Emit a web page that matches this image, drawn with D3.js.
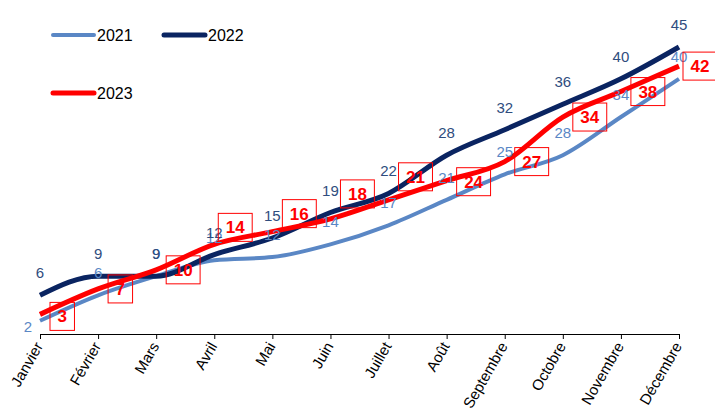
<!DOCTYPE html>
<html><head><meta charset="utf-8">
<script src="https://cdn.jsdelivr.net/npm/d3@7"></script>
<style>body{margin:0;background:#fff}svg{display:block;font-family:Arial,"Liberation Sans",sans-serif}</style>
</head><body><div id="chart"></div>
<script>
const months = ["Janvier","Février","Mars","Avril","Mai","Juin","Juillet","Août","Septembre","Octobre","Novembre","Décembre"];
const v2021 = [2,6,9,11.5,12,14,17,21,25,28,34,40];
const v2022 = [6,9,9,12.4,15,19,22,28,32,36,40,45];
const v2023 = [3,7,10,14,16,18,21,24,27,34,38,42];
// manual label nudges for the 2023 boxes (as in the original)
const boxDx = [0,0,0,-6,0,0,0,0,0,0,0,-6];
const boxDy = [2,0,0,-17,-18,-25,-23,1,0,0,0,0];

const W=715,H=412;
const svg=d3.select("#chart").append("svg").attr("width",W).attr("height",H);
const x=d3.scalePoint().domain(months).range([40,679]);
const y=d3.scaleLinear().domain([0,45]).range([333.5,47]);

const series=[
 {name:"2021",vals:v2021,color:"#5a87c5",lab:"#5a87c5",w:4},
 {name:"2022",vals:v2022,color:"#0a2461",lab:"#2f4d7e",w:5},
 {name:"2023",vals:v2023,color:"#ff0000",lab:"#ff0000",w:5}
];

// axis
const ax=svg.append("g").attr("transform","translate(0,334)")
 .call(d3.axisBottom(x).tickSize(5).tickSizeOuter(0));
ax.select(".domain").attr("stroke","#000");
ax.selectAll(".tick line").attr("stroke","#000");
ax.selectAll(".tick text").attr("font-size",15).attr("fill","#000")
 .attr("text-anchor","end").attr("dy",0).attr("y",0)
 .attr("transform","translate(3,12) rotate(-60)");

const line=d3.line().x((d,i)=>x(months[i])).y(d=>y(d)).curve(d3.curveMonotoneX);
series.forEach(s=>{
 svg.append("path").datum(s.vals).attr("d",line).attr("fill","none")
  .attr("stroke",s.color).attr("stroke-width",s.w).attr("stroke-linejoin","round");
});

// labels 2021 & 2022
[series[0],series[1]].forEach((s,si)=>{
 svg.append("g").selectAll("text").data(s.vals).join("text")
  .attr("x",(d,i)=> (si===0&&i===0)? x(months[i])-12 : x(months[i]))
  .attr("y",(d,i)=> (si===0&&i===0)? y(d)+11 : y(d)-17)
  .attr("text-anchor","middle").attr("font-size",15).attr("fill",s.lab)
  .text(d=>Math.round(d));
});

// 2023 boxed labels
const g3=svg.append("g");
v2023.forEach((d,i)=>{
 const t=g3.append("text").attr("font-size",17).attr("font-weight","bold").attr("fill","#ff0000")
  .attr("text-anchor","start").text(d);
 const tw=t.node().getComputedTextLength();
 const pad=7.5, bw=tw+2*pad, bh=28;
 const left=x(months[i])+10+boxDx[i];
 const cy=y(d)+boxDy[i];
 t.attr("x",left+pad).attr("y",cy+6);
 g3.append("rect").attr("x",left).attr("y",cy-bh/2).attr("width",bw).attr("height",bh)
  .attr("fill","none").attr("stroke","#ff0000").attr("stroke-width",1);
});

// legend
const leg=[{s:series[0],x:53,y:35},{s:series[1],x:164,y:35},{s:series[2],x:53,y:93}];
leg.forEach(l=>{
 svg.append("line").attr("x1",l.x).attr("x2",l.x+41).attr("y1",l.y).attr("y2",l.y)
  .attr("stroke",l.s.color).attr("stroke-width",l.s.w).attr("stroke-linecap","round");
 svg.append("text").attr("x",l.x+44).attr("y",l.y+6).attr("font-size",16).attr("fill","#000").text(l.s.name);
});
</script></body></html>
